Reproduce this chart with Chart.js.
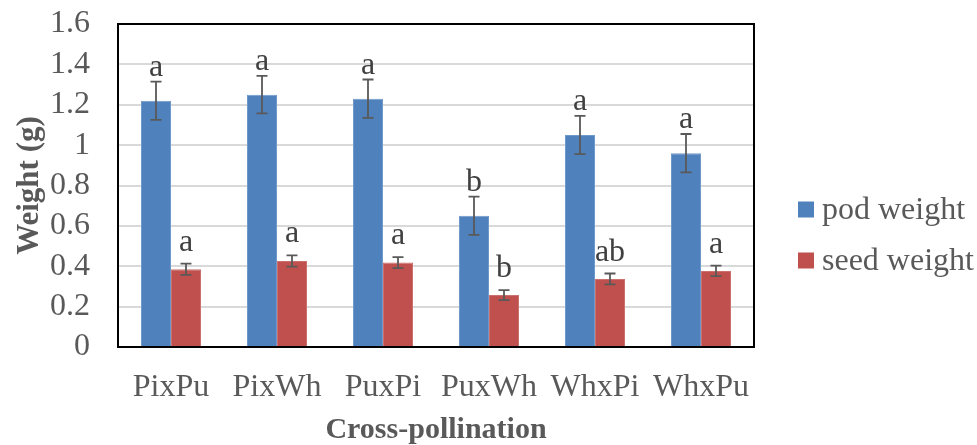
<!DOCTYPE html>
<html>
<head>
<meta charset="utf-8">
<script src="https://cdn.jsdelivr.net/npm/chart.js@4"></script>
<style>
  html, body { margin: 0; padding: 0; background: #fff; }
  #wrap { width: 977px; height: 445px; position: relative; }
</style>
</head>
<body>
<div id="wrap"><canvas id="c" width="977" height="445"></canvas></div>
<script>
const categories = ['PixPu', 'PixWh', 'PuxPi', 'PuxWh', 'WhxPi', 'WhxPu'];
const seriesNames = ['pod weight', 'seed weight'];
const podWeight = [1.22, 1.25, 1.23, 0.65, 1.05, 0.96];
const podError = [0.095, 0.093, 0.095, 0.095, 0.095, 0.095];
const podLetters = ['a', 'a', 'a', 'b', 'a', 'a'];
const seedWeight = [0.385, 0.426, 0.418, 0.257, 0.337, 0.377];
const seedError = [0.028, 0.028, 0.027, 0.025, 0.027, 0.026];
const seedLetters = ['a', 'a', 'a', 'b', 'ab', 'a'];
const yTicks = [0, 0.2, 0.4, 0.6, 0.8, 1, 1.2, 1.4, 1.6];

const FONT = "'Liberation Serif', 'Times New Roman', serif";
const TEXT = '#595959';
const FS = 32;

const errorsBySet = [podError, seedError];
const lettersBySet = [podLetters, seedLetters];
const letterGap = [6, 13];

const decorPlugin = {
  id: 'decor',
  afterDatasetsDraw(chart) {
    const ctx = chart.ctx;
    const y = chart.scales.y;
    chart.data.datasets.forEach((ds, di) => {
      const meta = chart.getDatasetMeta(di);
      meta.data.forEach((bar, i) => {
        const v = ds.data[i], e = errorsBySet[di][i];
        const yt = y.getPixelForValue(v + e);
        const yb = y.getPixelForValue(v - e);
        const x = bar.x;
        ctx.save();
        ctx.strokeStyle = '#595959';
        ctx.lineWidth = 1.8;
        ctx.beginPath();
        ctx.moveTo(x, yt); ctx.lineTo(x, yb);
        ctx.moveTo(x - 5.5, yt); ctx.lineTo(x + 5.5, yt);
        ctx.moveTo(x - 5.5, yb); ctx.lineTo(x + 5.5, yb);
        ctx.stroke();
        ctx.fillStyle = '#404040';
        ctx.font = FS + 'px ' + FONT;
        ctx.textAlign = 'center';
        ctx.textBaseline = 'alphabetic';
        ctx.fillText(lettersBySet[di][i], x, yt - letterGap[di]);
        ctx.restore();
      });
    });
  },
  afterDraw(chart) {
    const ctx = chart.ctx;
    const a = chart.chartArea;
    ctx.save();
    ctx.strokeStyle = '#000';
    ctx.lineWidth = 2;
    ctx.strokeRect(a.left, a.top, a.right - a.left, a.bottom - a.top);
    // legend
    ctx.font = FS + 'px ' + FONT;
    ctx.textAlign = 'left';
    ctx.textBaseline = 'middle';
    const legendY = [209.5, 260.5];
    chart.data.datasets.forEach((ds, di) => {
      const cy = legendY[di];
      ctx.fillStyle = ds.backgroundColor;
      ctx.fillRect(798, cy - 8, 16, 16);
      ctx.fillStyle = TEXT;
      ctx.fillText(ds.label, 822, cy + 1);
    });
    ctx.restore();
  }
};

new Chart(document.getElementById('c'), {
  type: 'bar',
  data: {
    labels: categories,
    datasets: [
      { label: seriesNames[0], data: podWeight, backgroundColor: '#4F81BD', borderColor: '#6F98CB', borderWidth: 1,
        categoryPercentage: 0.566, barPercentage: 1 },
      { label: seriesNames[1], data: seedWeight, backgroundColor: '#C0504D', borderColor: '#CC706D', borderWidth: 1,
        categoryPercentage: 0.566, barPercentage: 1 }
    ]
  },
  options: {
    responsive: false,
    animation: false,
    events: [],
    layout: { padding: { left: 0, right: 223, top: 24, bottom: 0 } },
    plugins: { legend: { display: false }, tooltip: { enabled: false } },
    scales: {
      x: {
        grid: { display: false, drawTicks: false },
        border: { display: false },
        ticks: { color: TEXT, font: { family: FONT, size: FS }, padding: 21, maxRotation: 0, autoSkip: false },
        title: { display: true, text: 'Cross-pollination', color: TEXT,
                 font: { family: FONT, size: 30, weight: 'bold', lineHeight: 1 }, padding: { top: 0, bottom: 0 } },
        afterFit(s) { s.height = 98; s.paddingLeft = 0; s.paddingRight = 0; }
      },
      y: {
        min: 0, max: 1.6,
        afterBuildTicks(s) { s.ticks = yTicks.map(v => ({ value: v })); },
        grid: { color: '#D9D9D9', lineWidth: 2, drawTicks: false },
        border: { display: false },
        ticks: { color: TEXT, font: { family: FONT, size: FS }, padding: 28, autoSkip: false,
                 callback: v => String(Math.round(v * 10) / 10) },
        title: { display: true, text: 'Weight (g)', color: TEXT,
                 font: { family: FONT, size: 31, weight: 'bold', lineHeight: 1 }, padding: 14 },
        afterFit(s) { s.width = 118; s.paddingTop = 0; s.paddingBottom = 0; }
      }
    }
  },
  plugins: [decorPlugin]
});
</script>
</body>
</html>
